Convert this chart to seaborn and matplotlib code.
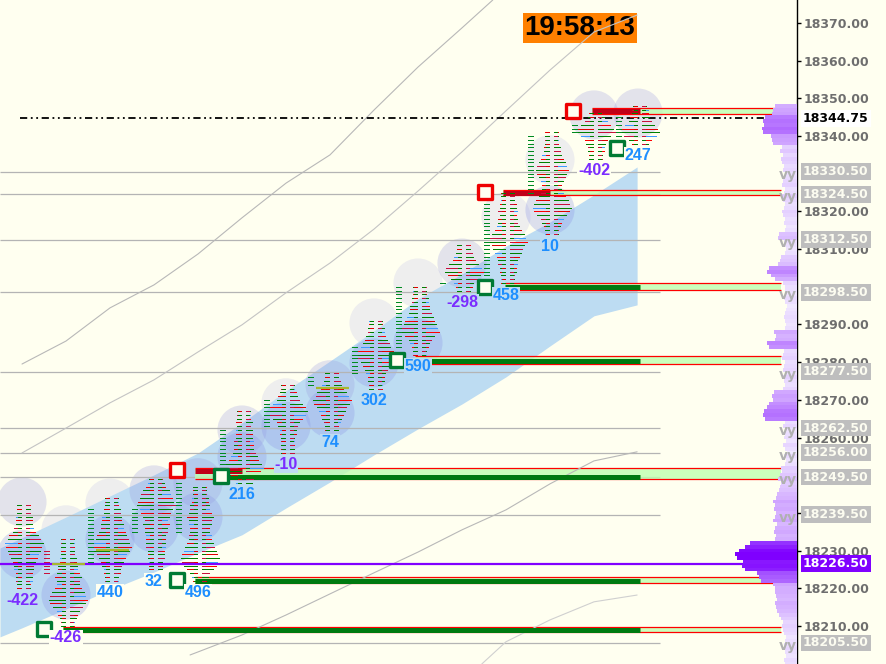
import numpy as np
import pandas as pd
import seaborn as sns
import matplotlib.pyplot as plt
import matplotlib.transforms as mtransforms
from matplotlib.colors import LinearSegmentedColormap, Normalize

# ---- footprint bars (x = bar number) ----
bar_low = [18220, 18210, 18222, 18225, 18222, 18248, 18256, 18262, 18273,
           18282, 18299, 18301, 18314, 18334, 18338]
# volume per 1-point row, from the bar low upwards
bar_vol = ["11222334567897643222111",
           "112346898754454332211111",
           "11223456898765443322111",
           "1112223333445456798765321",
           "12357898765443344543322111",
           "23579865433322212111",
           "1111122346898643211",
           "1123456897643211",
           "1122345689865432211",
           "1123469876543322111",
           "1235798643211",
           "1112233456798754332322111",
           "1123468987543345676543221111",
           "1122346986421",
           "24798643221"]
bar_delta = [-422, -426, 440, 32, 496, 216, -10, 74, 302, 590, -298, 458, 10, -402, 247]
lead_lo = [np.nan, 18224, 18227, 18235, 18235, 18253, 18263, 18274, 18277,
           18284, 18301, 18301, 18325, 18341, 18340]
lead_hi = [np.nan, 18230, 18241, 18241, 18248, 18262, 18270, 18276, 18284,
           18300, 18301, 18323, 18340, 18343, 18345]
circ_up = [18242.9, 18235.5, 18242.6, 18246.1, 18248.0, 18262.0, 18269.2, 18274.0,
           18290.4, 18301.0, 18306.3, 18318.5, 18333.7, 18345.6, 18346.1]
circ_up_gray = [0, 1, 1, 0, 0, 0, 1, 0, 1, 1, 0, 1, 1, 0, 0]
circ_dn = [18229.0, 18218.2, 18233.0, 18236.0, 18238.9, 18254.9, 18263.0, 18266.5,
           18279.8, 18285.1, np.nan, np.nan, 18320.4, np.nan, np.nan]
poc_bar = [1, 2, 7]
poc_price = [18226.5, 18230.2, 18273.2]

# ---- regression band ----
band_x = [-0.5, 0, 1, 2, 3, 4, 5, 6, 7, 8, 9, 10, 11, 12, 13, 13.98]
band_top = [18230.7, 18233.4, 18238.9, 18244.5, 18250.1, 18255.9, 18263.9, 18272.4,
            18280.3, 18288.3, 18296.8, 18303.4, 18310.8, 18317.2, 18324.4, 18331.8]
band_bot = [18207.1, 18209.5, 18214.5, 18219.6, 18224.3, 18229.4, 18234.2, 18241.3,
            18248.2, 18255.4, 18262.3, 18268.9, 18276.1, 18284.3, 18292.3, 18295.2]

# ---- envelope curves ----
env1_x = [0, 1, 2, 3, 4, 5, 6, 7, 8, 9, 10, 10.7]
env1 = [18279.5, 18285.6, 18294.4, 18300.5, 18308.7, 18318.3, 18327.5, 18335.0,
        18346.9, 18358.3, 18368.7, 18376.1]
env2_x = [0, 1, 2, 3, 4, 5, 6, 7, 8, 9, 10, 11, 12, 13, 13.98]
env2 = [18255.9, 18262.5, 18269.2, 18275.3, 18282.7, 18289.9, 18298.4, 18306.3,
        18315.3, 18325.4, 18335.8, 18346.7, 18357.5, 18367.6, 18372.1]
env3_x = [3.82, 4, 5, 6, 7, 8, 9, 10, 11, 12, 13, 13.98]
env3 = [18202.3, 18203.1, 18207.6, 18212.9, 18218.5, 18224.1, 18229.6, 18235.5,
        18240.8, 18247.7, 18253.8, 18256.2]
env4_x = [10.45, 11, 12, 13, 13.98]
env4 = [18199.9, 18205.8, 18211.6, 18216.4, 18218.2]

# ---- levels ----
gray_levels = [18330.5, 18324.5, 18312.5, 18298.5, 18277.5, 18262.5, 18256.0,
               18249.5, 18239.5, 18205.5]
poc_level = 18226.5
last_price = 18344.75
zone_top = [18347.4, 18325.7, 18301.0, 18281.5, 18251.9, 18223.0, 18209.7]
zone_bot = [18345.8, 18324.4, 18299.2, 18279.6, 18249.0, 18221.4, 18208.4]
zone_start = [12.95, 10.93, 10.98, 8.93, 3.93, 3.93, 0.93]
sup_price = [18299.9, 18280.4, 18249.6, 18222.0, 18208.9]
sup_start = [10.98, 8.93, 4.43, 3.93, 0.93]
res_price = [18346.6, 18324.9, 18251.2]
res_start = [12.95, 10.93, 3.93]
res_end = [14.05, 12.0, 5.0]
red_sq_x = [3.52, 10.52, 12.52]
red_sq_y = [18251.4, 18325.2, 18346.7]
green_sq_x = [0.5, 3.52, 4.52, 8.52, 10.52, 13.52]
green_sq_y = [18209.2, 18222.2, 18249.8, 18280.6, 18300.0, 18336.8]
price_ticks = [18210, 18220, 18230, 18240, 18260, 18270, 18280, 18290,
               18310, 18320, 18340, 18350, 18360, 18370]

# ---- volume profile on the right (from 18200 up, 1 point per row) ----
vp_start = 18200
vp_vol = [12, 13, 11, 12, 14, 13, 12, 11, 13, 14,
          15, 14, 16, 18, 20, 21, 22, 20, 21, 22,
          22, 24, 36, 38, 40, 52, 55, 54, 60, 62,
          58, 52, 47, 22, 21, 23, 22, 20, 24, 22,
          21, 23, 22, 24, 21, 20, 18, 17, 16, 19,
          17, 15, 16, 12, 11, 13, 10, 12, 14, 11,
          13, 12, 11, 14, 12, 32, 34, 33, 30, 28,
          24, 25, 23, 14, 12, 13, 15, 12, 14, 13,
          12, 15, 14, 13, 28, 30, 22, 21, 23, 12,
          11, 12, 13, 12, 11, 10, 12, 13, 11, 12,
          12, 14, 22, 26, 30, 28, 19, 17, 16, 12,
          11, 12, 13, 19, 18, 12, 11, 13, 12, 14,
          15, 13, 12, 14, 16, 13, 12, 15, 14, 13,
          12, 14, 13, 15, 16, 14, 17, 15, 24, 25,
          26, 34, 35, 33, 34, 32, 25, 24, 22]
clock = "19:58:13"

BG = "#fffff0"
PX = 44.0                      # pixels per bar
XL, XR = -0.5, 17.614
sns.set_style("white")
plt.rcParams['font.family'] = ['Liberation Sans', 'DejaVu Sans']

fig = plt.figure(figsize=(8.86, 6.64), dpi=100, facecolor=BG)
ax = fig.add_axes([0, 0, 797 / 886, 1])
ax.set_facecolor(BG)
ax.set_xlim(XL, XR)
ax.set_ylim(18199.9, 18376.1)

# band
ax.fill_between(band_x, band_bot, band_top, color="#bddcf2", lw=0, zorder=1)

# circles
cx_up = np.arange(len(circ_up))
gray_mask = np.array(circ_up_gray) == 1
sns.scatterplot(x=cx_up[gray_mask], y=np.array(circ_up)[gray_mask], s=1250, color="#eeeeee",
                edgecolor="none", ax=ax, zorder=0.9, legend=False)
sns.scatterplot(x=cx_up[~gray_mask], y=np.array(circ_up)[~gray_mask], s=1250, color="#9c9ce0",
                alpha=0.28, edgecolor="none", ax=ax, zorder=1.2, legend=False)
sns.scatterplot(x=cx_up, y=circ_dn, s=1250, color="#8c96e6", alpha=0.3,
                edgecolor="none", ax=ax, zorder=1.2, legend=False)

# gray levels
ax.hlines(gray_levels, XL, 14.5, color="#b4b4b4", lw=0.9, zorder=1.5)

# envelope curves
for xs, ys, c in [(env1_x, env1, "#b8b8b8"), (env2_x, env2, "#c4c4c4"),
                  (env3_x, env3, "#b8b8b8"), (env4_x, env4, "#d0d0d0")]:
    sns.lineplot(x=xs, y=ys, color=c, lw=0.8, ax=ax, zorder=2.2, legend=False)

# zones
for t, b, s in zip(zone_top, zone_bot, zone_start):
    ax.fill_between([s, 17.25], b, t, color="#bfffb0", alpha=0.8, lw=0, zorder=2)
    ax.hlines([t, b], s, 17.25, color="#ff0000", lw=0.9, zorder=2.1)
ax.hlines(sup_price, sup_start, 14.05, color="#007a10", lw=3.6, zorder=2.3)
ax.hlines(res_price, res_start, res_end, color="#c00018", lw=3.6, zorder=2.3)
ax.hlines(poc_level, XL, XR, color="#8000ff", lw=1.6, zorder=2.4)
for b, p in zip(poc_bar, poc_price):
    ax.hlines(p, b - 0.32, b + 0.43, color="#a8b830", lw=1.6, zorder=3.2)

# last price dotted line
ax.hlines(last_price, -0.05, 17.0, color="black", lw=1.3,
          linestyles=(0, (4, 2, 1, 2, 1, 2)), zorder=2.5)

# footprints
cyc = ["#e00000", "#008000", "#c8103c", "#008000", "#ff0000", "#3d9bff", "#008000"]
rows = []
for i, (lo, vols) in enumerate(zip(bar_low, bar_vol)):
    for k, ch in enumerate(vols):
        rows.append(dict(bar=i, price=lo + k, vol=int(ch), k=k))
fp = pd.DataFrame(rows)
kw = 0.036
xl = fp.bar - 0.04
xr = fp.bar + 0.12
fp_kw = dict(lw=0.5, antialiased=False)
ax.hlines(fp.price, xl - fp.vol * kw - 0.03, xl - 0.045,
          colors=[cyc[(k + b) % 7] for k, b in zip(fp.k, fp.bar)], zorder=3, **fp_kw)
ax.hlines(fp.price, xr + 0.045, xr + fp.vol * kw + 0.03,
          colors=[cyc[(k + b + 3) % 7] for k, b in zip(fp.k, fp.bar)], zorder=3, **fp_kw)
ax.hlines(fp.price, xl - 0.04, xl + 0.02,
          colors=["#e00000" if (k + b) % 3 == 0 else "#008000" for k, b in zip(fp.k, fp.bar)],
          zorder=3.1, **fp_kw)
ax.hlines(fp.price, xr - 0.02, xr + 0.04,
          colors=["#c8103c" if (k + b) % 2 == 0 else "#008000" for k, b in zip(fp.k, fp.bar)],
          zorder=3.1, **fp_kw)
for i, (lo, hi) in enumerate(zip(lead_lo, lead_hi)):
    if np.isnan(lo):
        continue
    ps = np.arange(lo, hi + 1)
    ax.hlines(ps, i - 0.5, i - 0.38, color="#c8103c" if i == 1 else "#008a20",
              zorder=3, **fp_kw)

# delta labels
for i, (lo, d) in enumerate(zip(bar_low, bar_delta)):
    y = lo - 3.2
    inside = np.interp(i, band_x, band_bot) < y < np.interp(i, band_x, band_top)
    ax.text(i, y, f"{d}", ha="center", va="center", fontsize=11.5, weight="bold",
            color="#1e8fff" if d > 0 else "#7a2cff", zorder=5,
            bbox=dict(boxstyle="square,pad=0.05", fc="#bddcf2" if inside else BG, ec="none"))

# squares
sns.scatterplot(x=red_sq_x, y=red_sq_y, marker="s", s=90, color=BG, edgecolor="#ee0000",
                linewidth=2.4, ax=ax, zorder=4, legend=False)
sns.scatterplot(x=green_sq_x, y=green_sq_y, marker="s", s=90, color=BG, edgecolor="#007a33",
                linewidth=2.4, ax=ax, zorder=4, legend=False)

# volume profile
vp_price = vp_start + np.arange(len(vp_vol))
vp_w = np.array(vp_vol) / PX
cmap = LinearSegmentedColormap.from_list("vp", ["#f0e8ff", "#c896ff", "#9a40ff", "#7f00ff"])
norm = Normalize(vmin=10, vmax=60)
ax.barh(vp_price, -vp_w, left=XR, height=1.0, color=cmap(norm(np.array(vp_vol))),
        lw=0, zorder=2.6)

# "vy" tags
for p in gray_levels:
    ax.text(17.2, p - 0.8, "vy", fontsize=10, weight="bold", color="#b0b0b0",
            family="DejaVu Sans", va="center", ha="left", zorder=2.7, clip_on=True)

# clock
ax.text(580 / 797, 1 - 28 / 664, clock, transform=ax.transAxes, ha="center", va="center",
        fontsize=20, weight="bold", color="black", zorder=1.8,
        bbox=dict(boxstyle="square,pad=0.06", fc="#ff8000", ec="none"))

# right axis
for s in ["top", "left", "bottom"]:
    ax.spines[s].set_visible(False)
ax.spines["right"].set_color("black")
ax.spines["right"].set_linewidth(1.0)
ax.set_xticks([])
ax.yaxis.tick_right()
ax.set_yticks(price_ticks)
ax.set_yticklabels([f"{v:.2f}" for v in price_ticks])
ax.tick_params(axis="y", direction="out", length=3, width=1, color="black", pad=2,
               labelsize=9, labelcolor="#6e6e6e")
for lab in ax.get_yticklabels():
    lab.set_fontweight("bold")
    lab.set_family("DejaVu Sans")

trans = mtransforms.blended_transform_factory(ax.transAxes, ax.transData)
for p in gray_levels:
    ax.text(803 / 797, p, f"{p:.2f}", transform=trans, ha="left", va="center", fontsize=9,
            weight="bold", family="DejaVu Sans", color="#fcfcf0", zorder=10, clip_on=False,
            bbox=dict(boxstyle="square,pad=0.15", fc="#bebebe", ec="none"))
ax.text(803 / 797, poc_level, f"{poc_level:.2f}", transform=trans, ha="left", va="center",
        fontsize=9, weight="bold", family="DejaVu Sans", color="white", zorder=10,
        clip_on=False, bbox=dict(boxstyle="square,pad=0.15", fc="#8000ff", ec="none"))
ax.text(803 / 797, last_price, f"{last_price:.2f}", transform=trans, ha="left", va="center",
        fontsize=9, weight="bold", family="DejaVu Sans", color="black", zorder=10,
        clip_on=False, bbox=dict(boxstyle="square,pad=0.15", fc="white", ec="none"))

fig.savefig("out.png", dpi=100, facecolor=BG)
